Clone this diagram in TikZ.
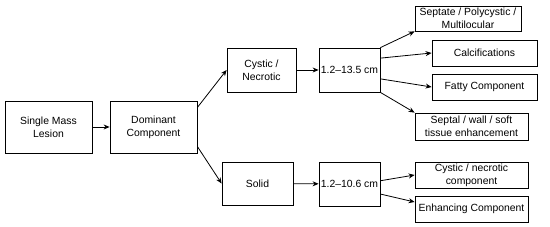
\documentclass[tikz,border=0pt]{standalone}
\usepackage{fontspec}
\setmainfont{Liberation Sans}
\usepackage{tikz}
\usetikzlibrary{arrows.meta, positioning}

\begin{document}
\begin{tikzpicture}[
    x=1pt, y=-1pt,
    every node/.style={font=\fontsize{10.4}{13}\selectfont},
    box/.style={draw, minimum width=#1, inner sep=1pt, text centered,
                line width=0.8pt, align=center},
    box/.default=87pt,
    arrow/.style={-{Stealth[length=6pt,width=5pt]}, line width=0.8pt},
]
\useasboundingbox (0,0) rectangle (550,227);

%% Nodos con coordenadas absolutas
\node[box=87pt, minimum height=52pt] at (48.5,127)  (lesion)   {Single Mass\\Lesion};
\node[box=87pt, minimum height=52pt] at (153.5,127) (dominant) {Dominant\\Component};

\node[box=69pt, minimum height=44pt] at (261.5,70)  (cystic) {Cystic /\\Necrotic};
\node[box=71pt, minimum height=43pt] at (257.5,183.5) (solid) {Solid};

\node[box=61pt, minimum height=44pt] at (349.5,70)  (sizecyst)  {1.2--13.5 cm};
\node[box=61pt, minimum height=44pt] at (349.5,184) (sizesolid) {1.2--10.6 cm};

%% Hallazgos
\node[box=106pt, minimum height=25pt] at (468,18.5)  (septate) {Septate / Polycystic /\\Multilocular};
\node[box=105pt, minimum height=26pt] at (484.5,53)  (calc)    {Calcifications};
\node[box=105pt, minimum height=26pt] at (484.5,87)  (fatty)   {Fatty Component};
\node[box=113pt, minimum height=27pt] at (471.5,126.5) (septal) {Septal / wall / soft\\tissue enhancement};
\node[box=113pt, minimum height=26pt] at (471.5,175) (cysnec)  {Cystic / necrotic\\component};
\node[box=113pt, minimum height=26pt] at (471.5,209) (enhance) {Enhancing Component};

%% Flechas
\draw[arrow] (lesion)       -- (dominant);
\draw[arrow] (dominant.24)  -- (cystic.west);
\draw[arrow] (dominant.-24) -- (solid.west);
\draw[arrow] (cystic)       -- (sizecyst);
\draw[arrow] (solid)        -- (sizesolid);
\draw[arrow] (sizecyst.north east) -- (septate.south west);
\draw[arrow] (sizecyst.21)  -- (calc.west);
\draw[arrow] (sizecyst.-16) -- (fatty.west);
\draw[arrow] (sizecyst.south east) -- (septal.north west);
\draw[arrow] (sizesolid.6)  -- (cysnec.west);
\draw[arrow] (sizesolid.-18) -- (enhance.173);

\end{tikzpicture}
\end{document}
